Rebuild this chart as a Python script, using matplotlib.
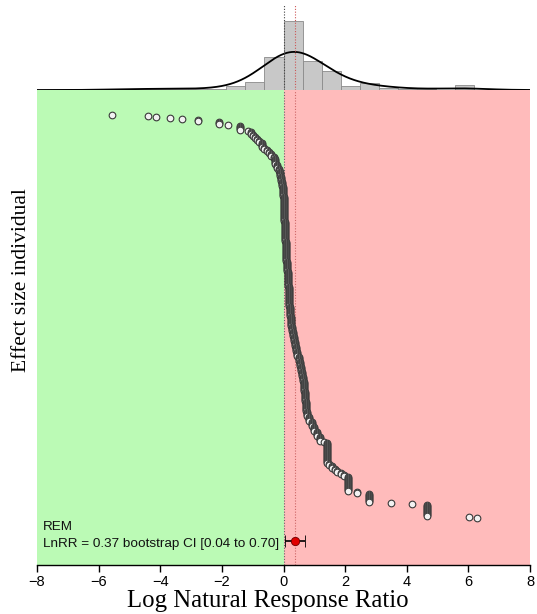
import numpy as np
import matplotlib
matplotlib.use("Agg")
import matplotlib.pyplot as plt

# ---------------- data ----------------
# Individual effect sizes (LnRR), sorted ascending, with number of tied studies
effect_values = [
    -5.55, -4.39, -4.14, -3.69, -3.29, -2.77, -2.10, -1.79, -1.40, -1.14,
    -1.05, -1.00, -0.93, -0.85, -0.78, -0.71, -0.62, -0.55, -0.47, -0.40,
    -0.32, -0.26, -0.21, -0.16,
    -0.12, -0.08, -0.05, -0.03, -0.02, 0.00, 0.01, 0.01, 0.02, 0.03,
    0.04, 0.05, 0.05, 0.06, 0.07, 0.07, 0.08, 0.09, 0.10, 0.11,
    0.13, 0.14, 0.15, 0.17, 0.18, 0.18, 0.19, 0.20, 0.21, 0.23,
    0.25, 0.27, 0.30, 0.34, 0.38, 0.42, 0.45, 0.49, 0.52, 0.56,
    0.60, 0.63, 0.65, 0.67, 0.69, 0.71, 0.73, 0.74, 0.76, 0.83,
    0.93, 1.00, 1.08, 1.20,
    1.30, 1.40, 1.47, 1.56, 1.66, 1.75, 1.86, 1.95, 2.08, 2.38,
    2.78, 3.48, 4.18, 4.65, 6.02, 6.27,
]
effect_counts = [
    1, 1, 1, 1, 1, 2, 3, 1, 5, 1,
    3, 2, 2, 2, 2, 5, 2, 2, 2, 3,
    2, 6, 4, 3,
    5, 5, 5, 5, 5, 5, 5, 5, 5, 5,
    5, 5, 5, 5, 5, 5, 5, 5, 5, 5,
    5, 5, 5, 5, 5, 5, 5, 5, 5, 5,
    5, 5, 5, 5, 5, 5, 5, 5, 5, 5,
    5, 5, 5, 5, 5, 5, 5, 5, 5, 5,
    5, 5, 5, 5,
    1, 21, 2, 3, 2, 2, 2, 2, 15, 2,
    9, 1, 1, 12, 1, 1,
]

# Histogram (top panel): counts per bin, first bin left edge and width
hist_counts = [1, 1, 1, 1, 1, 1, 3, 7, 28, 59, 25, 16, 3, 6, 2, 1, 1, 0, 4]
hist_first_edge = -5.553
hist_bin_width = 0.617

# Random-effects model summary
rem_estimate = 0.37
rem_ci_low = 0.04
rem_ci_high = 0.70

xticks = [-8, -6, -4, -2, 0, 2, 4, 6, 8]

# ---------------- figure ----------------
W, H = 537, 614
fig = plt.figure(figsize=(W / 100, H / 100), dpi=100)

ax_l, ax_r, ax_t, ax_b = 37, 530, 90, 565
ax = fig.add_axes([ax_l / W, 1 - ax_b / H, (ax_r - ax_l) / W, (ax_b - ax_t) / H])
axh = fig.add_axes([ax_l / W, 1 - ax_t / H, (ax_r - ax_l) / W, (ax_t - 5) / H])

green = '#bbfab5'
pink = '#ffbbbb'

x = np.repeat(effect_values, effect_counts)
N = len(x)
y = np.arange(N)[::-1]  # most negative on top

ax.axvspan(-8, 0, color=green, lw=0, zorder=0)
ax.axvspan(0, 8, color=pink, lw=0, zorder=0)
ax.axvline(0, color='#666666', ls=(0, (1, 1.5)), lw=0.8, zorder=1)
ax.axvline(rem_estimate, color='#cc6666', ls=(0, (1, 1.5)), lw=0.8, zorder=1)

ax.plot(x, y, 'o', ms=4.8, mfc='#f2f2f2', mec='#3a3a3a', mew=0.8, zorder=3)

rem_y = -22.7
ax.errorbar([rem_estimate], [rem_y],
            xerr=[[rem_estimate - rem_ci_low], [rem_ci_high - rem_estimate]],
            fmt='o', color='#e00000', mec='#700000', mew=0.6, ms=6,
            ecolor='black', elinewidth=1.2, capsize=4, capthick=1.2, zorder=4)

ax.text(-7.8, -8.7, 'REM', fontsize=9.7, family='Liberation Sans',
        va='center', ha='left', color='#111111')
ax.text(-7.8, -26.0,
        f'LnRR = {rem_estimate:.2f} bootstrap CI [{rem_ci_low:.2f} to {rem_ci_high:.2f}]',
        fontsize=9.7, family='Liberation Sans', va='center', ha='left', color='#111111')

ax.set_xlim(-8, 8)
ax.set_ylim(-47, 428)
ax.set_xticks(xticks)
ax.set_xticklabels([f'{t:d}'.replace('-', '\u2212') for t in xticks],
                   family='Liberation Sans', fontsize=10.5)
ax.set_yticks([])
for s in ['left', 'right', 'top']:
    ax.spines[s].set_visible(False)
ax.spines['bottom'].set_linewidth(1.0)
ax.tick_params(axis='x', length=5, width=1.0, pad=2, colors='black')

ax.set_xlabel('Log Natural Response Ratio', family='Liberation Serif', fontsize=17.8, labelpad=1)
ax.xaxis.set_label_coords(0.4686, -0.052)
ax.set_ylabel('Effect size individual', family='Liberation Serif', fontsize=15.5)
ax.yaxis.set_label_coords(-0.012, 0.60)

# ---------------- histogram panel ----------------
edges = hist_first_edge + hist_bin_width * np.arange(len(hist_counts))
axh.bar(edges, hist_counts, width=hist_bin_width, align='edge',
        color='#c8c8c8', edgecolor='#8a8a8a', lw=0.6, zorder=2)

centers = edges + hist_bin_width / 2
counts = np.array(hist_counts, dtype=float)
xs = np.linspace(-8, 8, 800)
h = 0.8
dens = (counts[:, None] * np.exp(-0.5 * ((xs[None, :] - centers[:, None]) / h) ** 2)).sum(0)
dens = dens / (counts.sum() * h * np.sqrt(2 * np.pi))
axh.plot(xs, dens * counts.sum() * hist_bin_width, color='black', lw=1.3, zorder=3)

axh.axvline(0, color='#444444', ls=(0, (1, 1.5)), lw=0.8, zorder=4)
axh.axvline(rem_estimate, color='#cc5555', ls=(0, (1, 1.5)), lw=0.8, zorder=4)

axh.set_xlim(-8, 8)
axh.set_ylim(0, 59 * 85 / 69)
axh.axis('off')

fig.savefig('out.png', dpi=100)
